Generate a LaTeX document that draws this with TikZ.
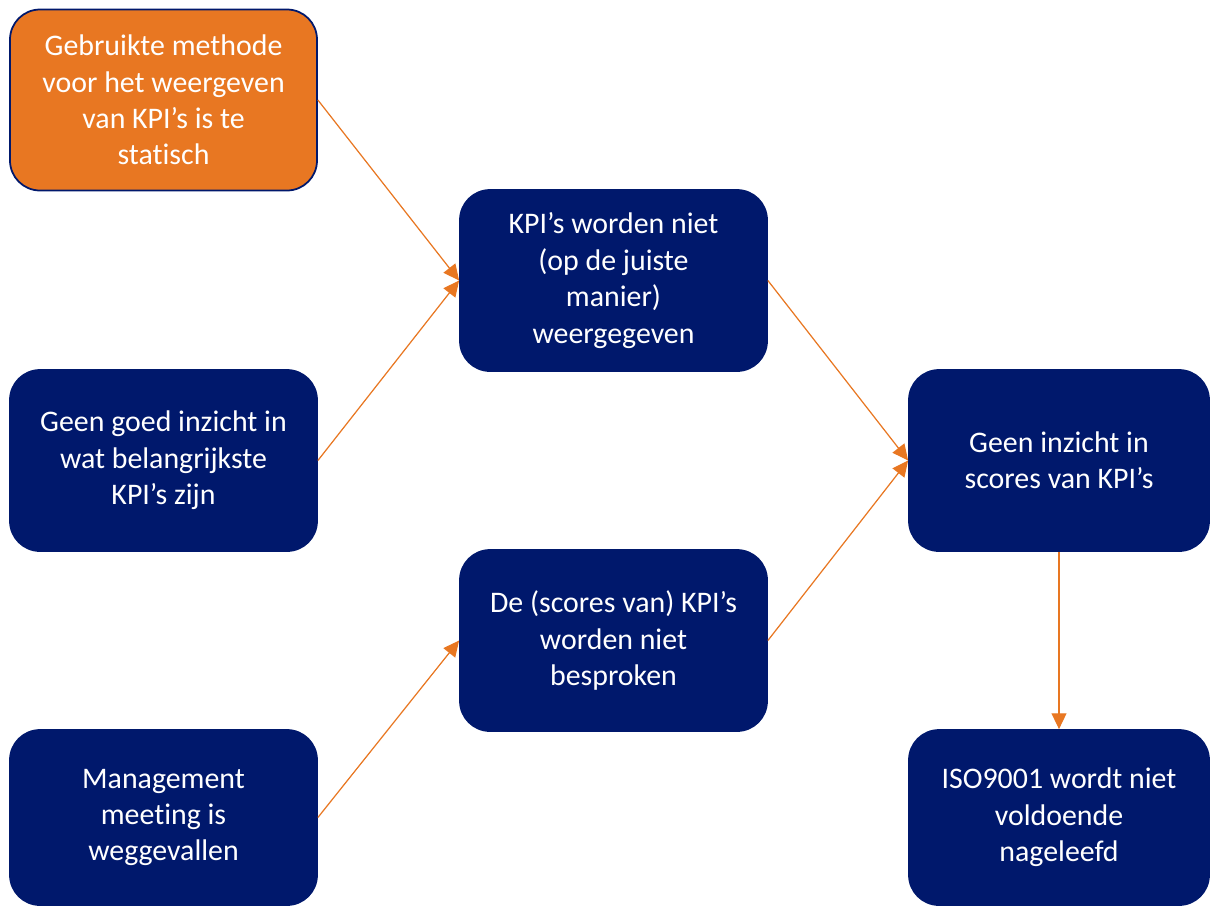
\documentclass[tikz,border=0pt]{standalone}
\usepackage{fontspec}
\setmainfont{Carlito}[Ligatures=NoCommon]
\usetikzlibrary{arrows.meta}
\definecolor{kpinavy}{RGB}{0,24,108}
\definecolor{kpiorange}{RGB}{232,119,34}
\tikzset{
  oorzaak/.style={draw=kpinavy, line width=1pt, fill=kpinavy, rounded corners=0.6cm,
    text=white, align=center, inner sep=0pt, minimum width=6.14cm, minimum height=3.62cm,
    font=\fontsize{17}{20.7}\selectfont},
  gevolg/.style={draw=kpiorange, line width=0.7pt, -{Triangle[length=9pt,width=8.5pt]}}
}
\begin{document}
\begin{tikzpicture}
  \useasboundingbox (0,0) rectangle (24.22,-18.12);

  % Linker kolom
  \node[oorzaak, fill=kpiorange] (statisch) at (3.27,-2.0) {Gebruikte methode\\voor het weergeven\\van KPI’s is te\\statisch};
  \node[oorzaak] (inzicht) at (3.27,-9.21) {Geen goed inzicht in\\wat belangrijkste\\KPI’s zijn};
  \node[oorzaak, minimum height=3.5cm] (meeting) at (3.27,-16.35) {Management\\meeting is\\weggevallen};

  % Middelste kolom
  \node[oorzaak] (weergave) at (12.27,-5.61) {KPI’s worden niet\\(op de juiste\\manier)\\weergegeven};
  \node[oorzaak] (besproken) at (12.27,-12.81) {De (scores van) KPI’s\\worden niet\\besproken};

  % Rechter kolom
  \node[oorzaak, minimum width=6.0cm] (scores) at (21.18,-9.21) {Geen inzicht in\\scores van KPI’s};
  \node[oorzaak, minimum width=6.0cm, minimum height=3.5cm] (iso) at (21.18,-16.35) {ISO9001 wordt niet\\voldoende\\nageleefd};

  % Pijlen
  \draw[gevolg] (statisch.east) -- (weergave.west);
  \draw[gevolg] (inzicht.east) -- (weergave.west);
  \draw[gevolg] (meeting.east) -- (besproken.west);
  \draw[gevolg] (weergave.east) -- (scores.west);
  \draw[gevolg] (besproken.east) -- (scores.west);
  \draw[gevolg] (scores.south) -- (iso.north);
\end{tikzpicture}
\end{document}
